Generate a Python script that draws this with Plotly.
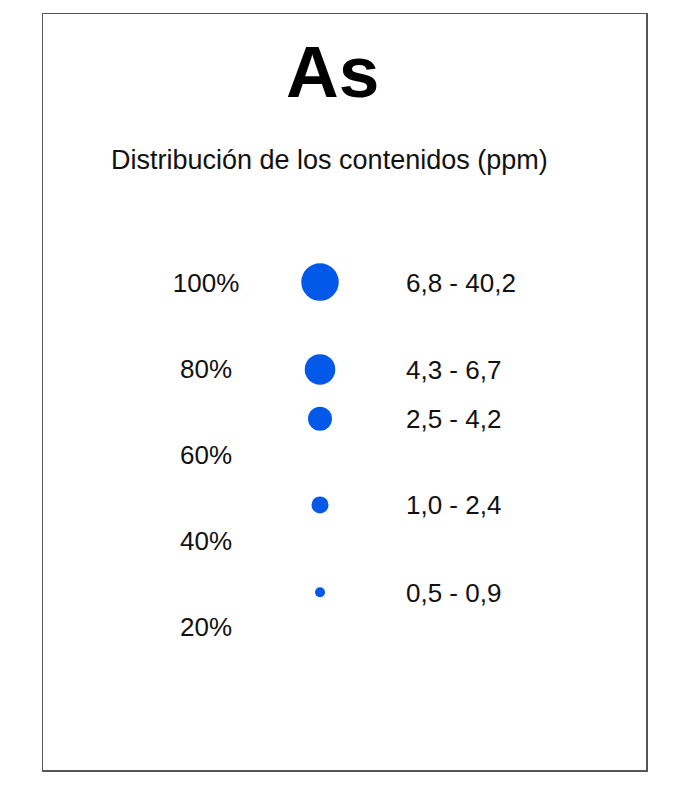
import plotly.graph_objects as go

# ---- data ----
pct_labels = ["100%", "80%", "60%", "40%", "20%"]
pct_values = [100, 80, 60, 40, 20]

range_labels = ["6,8 - 40,2", "4,3 - 6,7", "2,5 - 4,2", "1,0 - 2,4", "0,5 - 0,9"]
dot_pct = [100.7, 80.4, 68.9, 48.9, 28.6]
dot_sizes = [37.5, 30.5, 24, 17, 10]

title_text = "As"
subtitle_text = "Distribución de los contenidos (ppm)"

# ---- layout constants ----
FONT = "Liberation Sans, Arial, sans-serif"
DOT_COLOR = "#0258E8"
PCT_X = 0.0
DOT_X = 1.0
RANGE_X = 1.734

fig = go.Figure()

fig.add_trace(go.Scatter(
    x=[PCT_X] * len(pct_values), y=pct_values, mode="text",
    text=pct_labels, textposition="middle center",
    textfont=dict(family=FONT, size=26, color="#111111"),
    hoverinfo="skip", showlegend=False,
))

fig.add_trace(go.Scatter(
    x=[DOT_X] * len(dot_pct), y=dot_pct, mode="markers",
    marker=dict(size=dot_sizes, color=DOT_COLOR, opacity=1, line=dict(width=0)),
    opacity=1,
    hoverinfo="skip", showlegend=False,
))

for lab, yv in zip(range_labels, dot_pct):
    fig.add_annotation(
        text=lab, x=RANGE_X, y=yv, xref="x", yref="y",
        xanchor="left", yanchor="middle", yshift=-0.5, showarrow=False,
        font=dict(family=FONT, size=26, color="#111111"),
    )

fig.add_annotation(
    text=f"<b>{title_text}</b>", xref="paper", yref="paper",
    x=(332.5 - 43) / 603, y=(770 - 70) / 758, xanchor="center", yanchor="middle",
    showarrow=False, font=dict(family=FONT, size=73, color="#000000"),
)
fig.add_annotation(
    text=subtitle_text, xref="paper", yref="paper",
    x=(329.7 - 43) / 603, y=(770 - 158) / 758, xanchor="center", yanchor="middle",
    showarrow=False, font=dict(family=FONT, size=27, color="#111111"),
)

fig.update_layout(
    width=675, height=785,
    margin=dict(l=43, r=29, t=12, b=15),
    paper_bgcolor="white", plot_bgcolor="white",
    xaxis=dict(range=[-1.4298, 3.8596], showgrid=False, zeroline=False,
               showticklabels=False, ticks="", showline=True, mirror=True,
               linecolor="#555555", linewidth=1.5, fixedrange=True),
    yaxis=dict(range=[-12.74, 163.03], showgrid=False, zeroline=False,
               showticklabels=False, ticks="", showline=True, mirror=True,
               linecolor="#555555", linewidth=1.5, fixedrange=True),
)

fig.write_html(
    "out.html",
    config={"staticPlot": True},
    post_script="document.body.style.margin='0';document.body.style.overflow='hidden';",
)
